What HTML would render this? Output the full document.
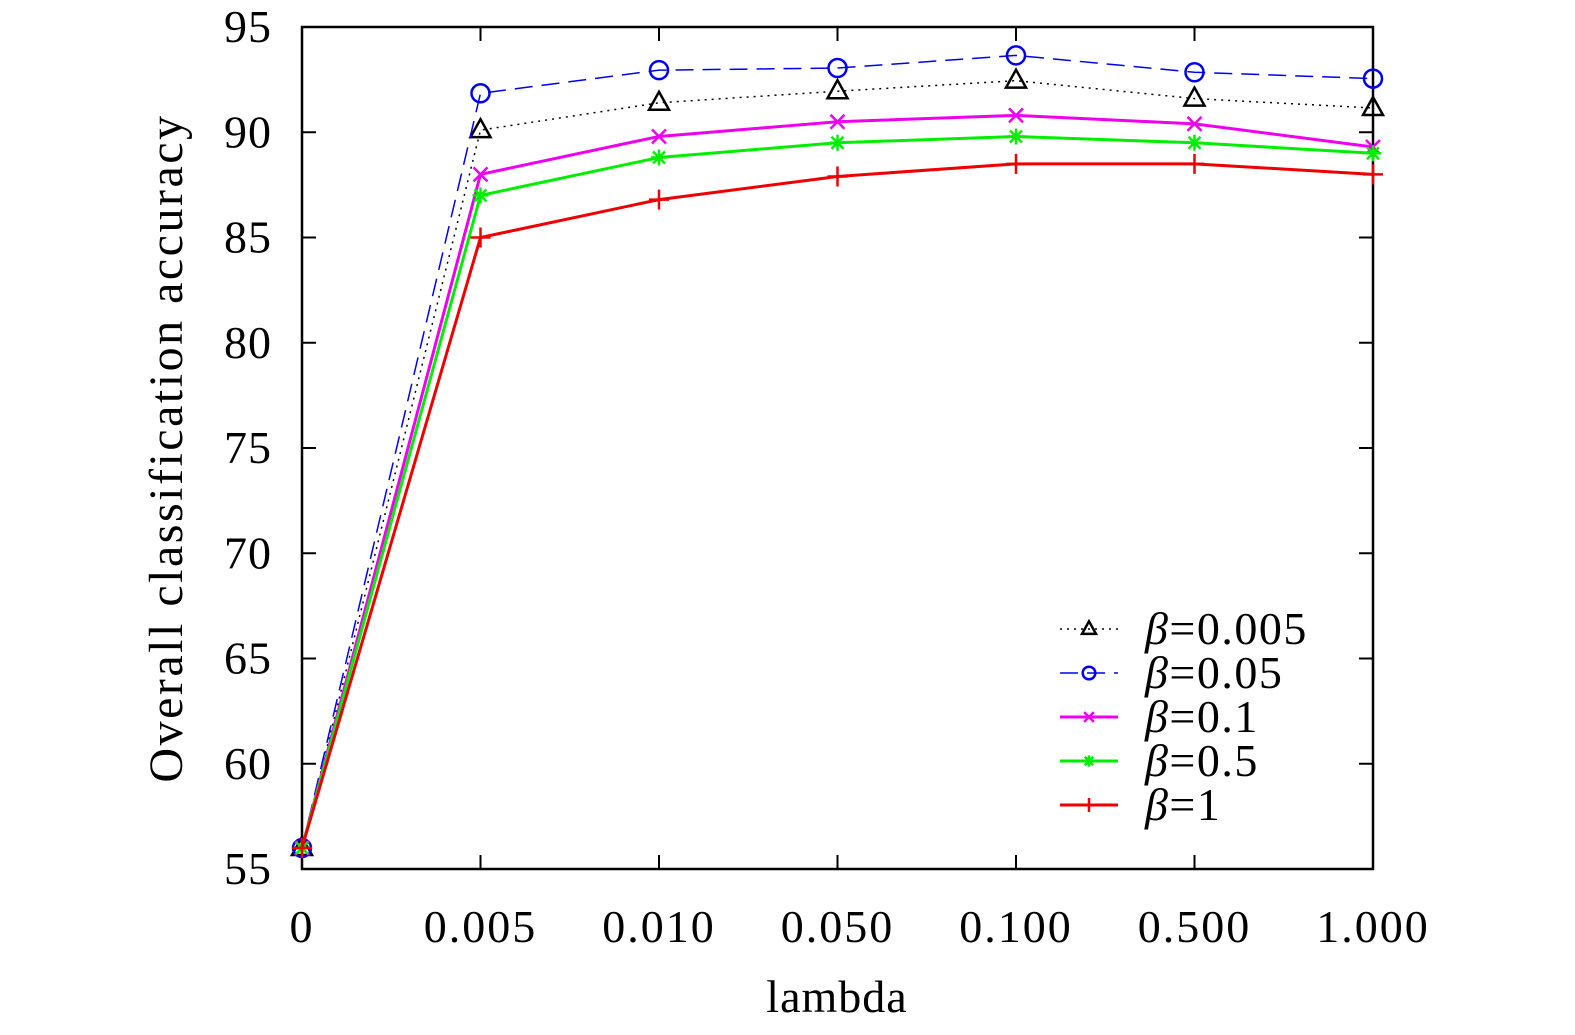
<!DOCTYPE html>
<html><head><meta charset="utf-8"><style>
body{margin:0;background:#fff}
svg text{font-family:"Liberation Serif",serif;fill:#000}
</style></head><body>
<svg id="chart" width="1575" height="1030" xmlns="http://www.w3.org/2000/svg"></svg>
<script>
const categories=["0","0.005","0.010","0.050","0.100","0.500","1.000"];
const yTicks=[55,60,65,70,75,80,85,90,95];
const s1=[56,90.1,91.4,91.95,92.45,91.6,91.15];
const s2=[56,91.85,92.95,93.05,93.65,92.85,92.55];
const s3=[56,88.0,89.8,90.5,90.8,90.4,89.3];
const s4=[56,87.0,88.8,89.5,89.8,89.5,89.0];
const s5=[56,85.0,86.8,87.9,88.5,88.5,88.0];
const seriesLabels=["0.005","0.05","0.1","0.5","1"];
const NS="http://www.w3.org/2000/svg";
const svg=document.getElementById('chart');
const L=302,R=1373,T=27,B=869;
const x=i=>L+i*(R-L)/(categories.length-1);
const y=v=>B-(v-55)*(B-T)/40;
function el(tag,attrs,parent){const e=document.createElementNS(NS,tag);for(const k in attrs)e.setAttribute(k,attrs[k]);(parent||svg).appendChild(e);return e;}
const frame=el('rect',{x:L,y:T,width:R-L,height:B-T,fill:'none',stroke:'#000','stroke-width':2.5});


yTicks.forEach(v=>{
 const g=el('g',{});
 
 
 el('line',{x1:L,x2:L+14,y1:y(v),y2:y(v),stroke:'#000','stroke-width':2},g);
 el('line',{x1:R,x2:R-14,y1:y(v),y2:y(v),stroke:'#000','stroke-width':2},g);
 const t=el('text',{x:L-30,y:y(v)+15,'text-anchor':'end','font-size':46,'letter-spacing':1},g);t.textContent=v;
});
categories.forEach((c,i)=>{
 const g=el('g',{});
 
 
 el('line',{x1:x(i),x2:x(i),y1:B,y2:B-14,stroke:'#000','stroke-width':2},g);
 el('line',{x1:x(i),x2:x(i),y1:T,y2:T+14,stroke:'#000','stroke-width':2},g);
 const t=el('text',{x:x(i),y:942,'text-anchor':'middle','font-size':46,'letter-spacing':2},g);t.textContent=c;
});
const xt=el('text',{x:837,y:1012,'text-anchor':'middle','font-size':46,'letter-spacing':1});xt.textContent='lambda';


const yt=el('text',{x:0,y:0,'text-anchor':'middle','font-size':48,'letter-spacing':2.5,transform:'translate(182,448) rotate(-90)'});yt.textContent='Overall classification accuracy';


function marker(type,cx,cy,col,g,s){
 s=s||1;
 if(type==='tri'){el('path',{d:`M${cx},${cy-11*s}L${cx+10*s},${cy+7*s}L${cx-10*s},${cy+7*s}Z`,fill:'none',stroke:col,'stroke-width':2.5},g);}
 else if(type==='circ'){el('circle',{cx,cy,r:9*s,fill:'none',stroke:col,'stroke-width':2.5},g);}
 else if(type==='x'){const d=7*s;el('path',{d:`M${cx-d},${cy-d}L${cx+d},${cy+d}M${cx-d},${cy+d}L${cx+d},${cy-d}`,stroke:col,'stroke-width':2.5},g);}
 else if(type==='star'){const d=8*s;el('path',{d:`M${cx-d},${cy}L${cx+d},${cy}M${cx},${cy-d}L${cx},${cy+d}M${cx-6*s},${cy-6*s}L${cx+6*s},${cy+6*s}M${cx-6*s},${cy+6*s}L${cx+6*s},${cy-6*s}`,stroke:col,'stroke-width':2.5},g);}
 else {const d=10*s;el('path',{d:`M${cx-d},${cy}L${cx+d},${cy}M${cx},${cy-d}L${cx},${cy+d}`,stroke:col,'stroke-width':2.5},g);}
}
const series=[
 {d:s1,col:'#000',dash:'2,5',w:1.5,m:'tri'},
 {d:s2,col:'#0000ee',dash:'18,9',w:1.5,m:'circ'},
 {d:s3,col:'#ee00ee',dash:'',w:3,m:'x'},
 {d:s4,col:'#00ee00',dash:'',w:3,m:'star'},
 {d:s5,col:'#ee0000',dash:'',w:3,m:'plus'}
];
series.forEach((s,k)=>{
 const g=el('g',{});
 
 
 el('polyline',{points:s.d.map((v,i)=>x(i)+','+y(v)).join(' '),fill:'none',stroke:s.col,'stroke-width':s.w,'stroke-dasharray':s.dash},g);
 s.d.forEach((v,i)=>marker(s.m,x(i),y(v),s.col,g));
 const ly=629+k*44;
 const lg=el('g',{});
 
 
 el('line',{x1:1060,x2:1118,y1:ly,y2:ly,stroke:s.col,'stroke-width':s.w,'stroke-dasharray':s.dash},lg);
 marker(s.m,1089,ly,s.col,lg,0.7);
 const t=el('text',{x:1145,y:ly+15,'font-size':46,'letter-spacing':1.5},lg);
 const b=el('tspan',{'font-style':'italic'},t);b.textContent='β';
 const r=el('tspan',{},t);r.textContent='='+seriesLabels[k];
});
</script>
</body></html>
